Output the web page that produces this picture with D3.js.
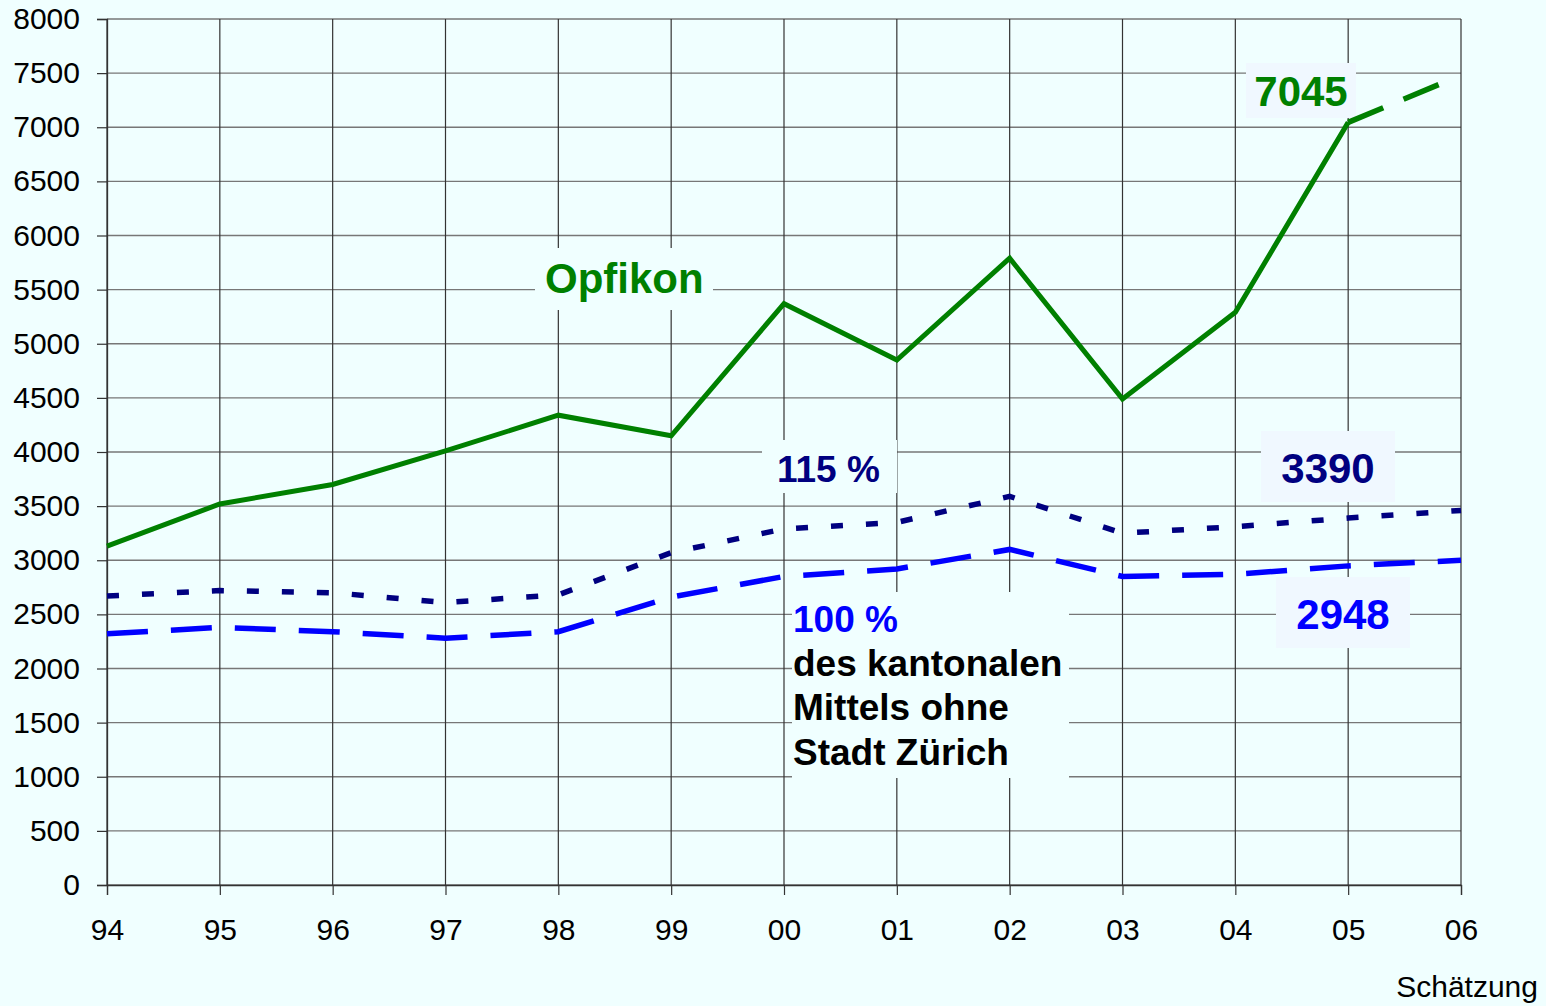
<!DOCTYPE html>
<html>
<head>
<meta charset="utf-8">
<script src="https://cdn.jsdelivr.net/npm/d3@7"></script>
<style>
	body { margin: 0; background: #f0ffff; }
	svg { display: block; font-family: "Liberation Sans", Arial, sans-serif; }
</style>
</head>
<body>
<svg id="chart" width="1546" height="1006"></svg>
<script>
// Jahre (x-Achse)
var years = ["94", "95", "96", "97", "98", "99", "00", "01", "02", "03", "04", "05", "06"];
var yTicks = [0, 500, 1000, 1500, 2000, 2500, 3000, 3500, 4000, 4500, 5000, 5500, 6000, 6500, 7000, 7500, 8000];

// Werte
var opfikon   = [3130, 3520, 3700, 4010, 4340, 4150, 5370, 4850, 5790, 4490, 5290, 7045, 7480];
var mittel115 = [2670, 2720, 2700, 2610, 2680, 3070, 3290, 3350, 3590, 3250, 3310, 3390, 3460];
var mittel100 = [2320, 2380, 2340, 2280, 2340, 2660, 2850, 2920, 3100, 2850, 2870, 2948, 3000];

var svg = d3.select("#chart");
var plotLeft = 107, plotRight = 1461, plotTop = 19, plotBottom = 885;

var x = d3.scalePoint().domain(years).range([plotLeft, plotRight]);
var y = d3.scaleLinear().domain([0, 8000]).range([plotBottom, plotTop]);

// Gitter
svg.append("g").selectAll("line")
	.data(yTicks)
	.enter().append("line")
	.attr("x1", plotLeft).attr("x2", plotRight)
	.attr("y1", function(d) { return y(d); })
	.attr("y2", function(d) { return y(d); })
	.attr("stroke", "#777").attr("stroke-width", 1.3);

svg.append("g").selectAll("line")
	.data(years)
	.enter().append("line")
	.attr("x1", function(d) { return x(d); })
	.attr("x2", function(d) { return x(d); })
	.attr("y1", plotTop).attr("y2", plotBottom)
	.attr("stroke", "#333").attr("stroke-width", 1.2);

// Achsen
var yAxis = d3.axisLeft(y).tickValues(yTicks).tickSize(10).tickPadding(17).tickFormat(d3.format("d"));
var gy = svg.append("g").attr("transform", "translate(" + plotLeft + ",0)").call(yAxis);
var xAxis = d3.axisBottom(x).tickSize(10).tickPadding(24);
var gx = svg.append("g").attr("transform", "translate(0," + plotBottom + ")").call(xAxis);

[gy, gx].forEach(function(g) {
	g.select(".domain").attr("stroke", "#333").attr("stroke-width", 1.3);
	g.selectAll(".tick line").attr("stroke", "#333").attr("stroke-width", 1.2);
	g.selectAll(".tick text").attr("font-size", 30).attr("fill", "#000")
		.attr("font-family", "'Liberation Sans', Arial, sans-serif");
});
gx.selectAll(".tick text").attr("dy", "0.71em");

svg.append("text")
	.attr("x", 1538).attr("y", 997)
	.attr("text-anchor", "end")
	.attr("font-size", 30)
	.text("Schätzung");

// Beschriftungsboxen
function box(x0, y0, w, h, fill) {
	svg.append("rect").attr("x", x0).attr("y", y0).attr("width", w).attr("height", h).attr("fill", fill);
}
box(535, 248, 178, 62, "#f0ffff");
box(762, 440, 135, 53, "#f0ffff");
box(792, 592, 277, 186, "#f0ffff");
box(1246, 63, 110, 55, "#f0f8ff");
box(1261, 431, 134, 71, "#f0f8ff");
box(1276, 577, 134, 71, "#f0f8ff");

// Linien
var line = d3.line()
	.x(function(d) { return x(d.year); })
	.y(function(d) { return y(d.value); });

function series(arr) {
	return arr.map(function(v, i) { return {"year": years[i], "value": v}; });
}

var opf = series(opfikon);
svg.append("path")
	.attr("d", line(opf.slice(0, 12)))
	.attr("fill", "none").attr("stroke", "#008000").attr("stroke-width", 5)
	.attr("stroke-linejoin", "miter");
svg.append("path")
	.attr("d", line(opf.slice(11)))
	.attr("fill", "none").attr("stroke", "#008000").attr("stroke-width", 5.5)
	.attr("stroke-dasharray", "38,22,38,25");

svg.append("path")
	.attr("d", line(series(mittel115)))
	.attr("fill", "none").attr("stroke", "#000080").attr("stroke-width", 5.5)
	.attr("stroke-dasharray", "12,23");

svg.append("path")
	.attr("d", line(series(mittel100)))
	.attr("fill", "none").attr("stroke", "#0000ff").attr("stroke-width", 5.5)
	.attr("stroke-dasharray", "41,23");

// Texte
function label(tx, ty, str, color, size, anchor) {
	svg.append("text")
		.attr("x", tx).attr("y", ty)
		.attr("text-anchor", anchor || "start")
		.attr("font-size", size).attr("font-weight", "bold")
		.attr("fill", color)
		.text(str);
}
label(545, 293, "Opfikon", "#008000", 42);
label(1301, 106, String(opfikon[11]), "#008000", 42, "middle");
label(1328, 483, String(mittel115[11]), "#000080", 42, "middle");
label(1343, 629, String(mittel100[11]), "#0000ff", 42, "middle");
label(777, 482, "115 %", "#000080", 37);
label(793, 632, "100 %", "#0000ff", 37);
label(793, 676, "des kantonalen", "#000", 37);
label(793, 720, "Mittels ohne", "#000", 37);
label(793, 765, "Stadt Zürich", "#000", 37);
</script>
</body>
</html>
